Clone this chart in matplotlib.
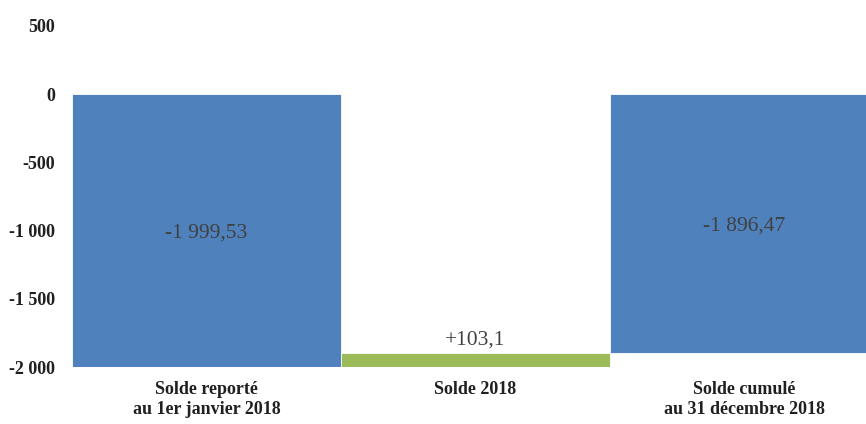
import matplotlib.pyplot as plt

categories = ["Solde reporté\nau 1er janvier 2018", "Solde 2018", "Solde cumulé\nau 31 décembre 2018"]
starts = [0.0, -1999.53, 0.0]
ends = [-1999.53, -1896.43, -1896.47]
labels = ["-1 999,53", "+103,1", "-1 896,47"]
colors = ["#4F81BD", "#9BBB59", "#4F81BD"]
yticks = [500, 0, -500, -1000, -1500, -2000]
ytick_labels = ["500", "0", "-500", "-1 000", "-1 500", "-2 000"]

plt.rcParams["font.family"] = ["Liberation Serif", "DejaVu Serif"]

fig = plt.figure(figsize=(8.66, 4.24), dpi=100)
ax = fig.add_axes([0.0831, 0.1344, 0.932, 0.8043])

x = list(range(len(categories)))
heights = [e - s for s, e in zip(starts, ends)]
ax.bar(x, heights, bottom=starts, width=1.0, color=colors, edgecolor="white", linewidth=0.6)

for i, (s, e, lab) in enumerate(zip(starts, ends, labels)):
    if abs(e - s) > 500:
        ax.text(i, (s + e) / 2 - 15, lab, ha="center", va="center", fontsize=15.5, color="#404040")
    else:
        ax.text(i, max(s, e) + 25, lab, ha="center", va="bottom", fontsize=15.5, color="#404040")

ax.set_xlim(-0.5, 2.5)
ax.set_ylim(-2000, 500)
ax.set_yticks(yticks)
ax.set_yticklabels(ytick_labels, fontsize=13, fontweight="bold", color="#202020")
ax.set_xticks(x)
ax.set_xticklabels(categories, fontsize=13, fontweight="bold", color="#202020", linespacing=1.25)
ax.tick_params(length=0, pad=12)
ax.tick_params(axis="x", pad=10)
for sp in ax.spines.values():
    sp.set_visible(False)

fig.savefig("out.png", dpi=100)
